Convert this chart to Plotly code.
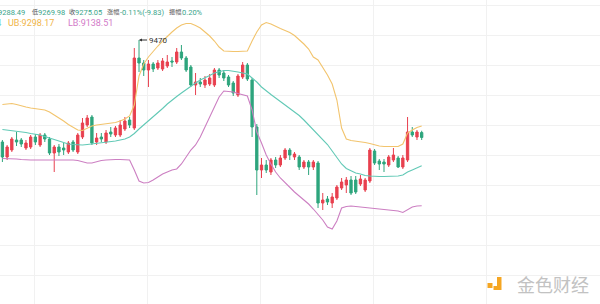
import plotly.graph_objects as go

# ---- data ----
idx = list(range(90))

open_ = [9266, 9236, 9250, 9270, 9270, 9254, 9256, 9276, 9260, 9280,
         9272, 9244, 9256, 9254, 9246, 9266, 9246, 9276, 9300, 9316,
         9266, 9276, 9266, 9286, 9280, 9280, 9292, 9310, 9294, 9434,
         9424, 9410, 9422, 9414, 9412, 9418, 9428, 9426, 9446, 9434,
         9416, 9380, 9386, 9380, 9382, 9380, 9410, 9404, 9396, 9384,
         9360, 9396, 9420, 9390, 9296, 9210, 9220, 9206, 9230, 9220,
         9234, 9250, 9236, 9236, 9216, 9226, 9216, 9224, 9144, 9152,
         9144, 9154, 9174, 9180, 9190, 9190, 9182, 9170, 9188, 9248,
         9228, 9226, 9220, 9230, 9234, 9216, 9230, 9286, 9276, 9284.88]
high = [9270, 9260, 9276, 9286, 9274, 9270, 9280, 9282, 9284, 9284,
        9276, 9260, 9262, 9264, 9268, 9270, 9284, 9314, 9320, 9320,
        9284, 9284, 9290, 9296, 9298, 9310, 9316, 9316, 9454, 9470,
        9430, 9430, 9426, 9430, 9434, 9440, 9436, 9454, 9460, 9438,
        9420, 9404, 9394, 9398, 9402, 9414, 9414, 9410, 9400, 9388,
        9402, 9426, 9424, 9394, 9302, 9234, 9230, 9234, 9236, 9240,
        9254, 9254, 9246, 9240, 9230, 9230, 9230, 9228, 9164, 9158,
        9164, 9180, 9194, 9196, 9198, 9198, 9200, 9194, 9254, 9252,
        9232, 9232, 9240, 9254, 9238, 9240, 9316, 9296, 9290, 9288.49]
low = [9226, 9230, 9246, 9258, 9256, 9250, 9252, 9260, 9256, 9266,
       9240, 9206, 9238, 9240, 9242, 9246, 9242, 9272, 9296, 9260,
       9260, 9266, 9262, 9276, 9276, 9276, 9288, 9294, 9290, 9406,
       9398, 9376, 9406, 9410, 9408, 9414, 9416, 9422, 9430, 9406,
       9376, 9360, 9376, 9374, 9378, 9376, 9394, 9388, 9376, 9358,
       9356, 9392, 9388, 9276, 9160, 9194, 9204, 9200, 9214, 9216,
       9230, 9230, 9230, 9210, 9212, 9200, 9210, 9134, 9130, 9140,
       9134, 9150, 9170, 9164, 9160, 9162, 9178, 9166, 9184, 9220,
       9210, 9206, 9216, 9226, 9214, 9212, 9226, 9276, 9270, 9269.98]
close = [9236, 9256, 9272, 9266, 9262, 9264, 9276, 9266, 9280, 9272,
         9244, 9256, 9246, 9250, 9264, 9250, 9280, 9304, 9314, 9264,
         9274, 9272, 9284, 9282, 9294, 9300, 9308, 9300, 9434, 9424,
         9410, 9422, 9412, 9424, 9428, 9426, 9426, 9446, 9434, 9410,
         9380, 9386, 9382, 9390, 9394, 9410, 9400, 9394, 9380, 9364,
         9398, 9420, 9392, 9296, 9210, 9220, 9210, 9230, 9220, 9234,
         9250, 9240, 9242, 9216, 9226, 9216, 9226, 9144, 9150, 9146,
         9156, 9176, 9186, 9190, 9164, 9166, 9192, 9190, 9250, 9224,
         9222, 9222, 9236, 9240, 9216, 9234, 9286, 9280, 9286, 9275.05]

ub = [9341, 9342, 9343, 9341, 9338, 9336, 9334, 9333, 9331, 9330,
      9326, 9320, 9315, 9308, 9301, 9295, 9290, 9289, 9293, 9298,
      9300, 9301, 9302, 9303, 9305, 9308, 9312, 9318, 9340, 9398,
      9422, 9436, 9448, 9458, 9468, 9478, 9486, 9494, 9500, 9503,
      9503, 9499, 9494, 9486, 9478, 9468, 9456, 9448, 9447, 9447,
      9447, 9447, 9448, 9468, 9486, 9500, 9505, 9502, 9497, 9493,
      9489, 9485, 9479, 9471, 9462, 9452, 9436, 9430, 9416, 9400,
      9382, 9350, 9294, 9272, 9269, 9268, 9267, 9265, 9263, 9260,
      9258, 9257, 9257, 9256, 9257, 9262, 9284, 9290, 9295, 9298.17]
mb = [9291, 9290, 9289, 9288, 9286, 9285, 9283, 9282, 9280, 9277,
      9274, 9270, 9267, 9264, 9262, 9261, 9260, 9260, 9261, 9262,
      9264, 9265, 9266, 9267, 9268, 9270, 9272, 9276, 9283, 9292,
      9300, 9308, 9316, 9324, 9333, 9342, 9350, 9357, 9364, 9371,
      9378, 9384, 9390, 9394, 9399, 9404, 9407, 9409, 9409, 9408,
      9406, 9404, 9402, 9394, 9386, 9376, 9368, 9361, 9354, 9347,
      9340, 9333, 9326, 9319, 9310, 9300, 9291, 9282, 9272, 9261,
      9248, 9234, 9222, 9213, 9208, 9204, 9202, 9199, 9198, 9197,
      9197, 9197, 9197, 9197, 9198, 9200, 9206, 9210, 9214, 9218.34]
lb = [9233, 9233, 9232, 9232, 9231, 9230, 9230, 9230, 9230, 9230,
      9230, 9231, 9231, 9231, 9230, 9230, 9229, 9227, 9224, 9224,
      9227, 9229, 9230, 9231, 9231, 9231, 9231, 9230, 9210, 9188,
      9184, 9185, 9190, 9196, 9202, 9206, 9210, 9212, 9222, 9236,
      9250, 9260, 9276, 9296, 9316, 9338, 9356, 9368, 9367, 9366,
      9363, 9361, 9358, 9330, 9286, 9264, 9240, 9222, 9206, 9194,
      9184, 9174, 9166, 9158, 9150, 9142, 9132, 9122, 9110, 9096,
      9092, 9108, 9134, 9137, 9138, 9137, 9136, 9135, 9134, 9134,
      9133, 9132, 9131, 9130, 9128, 9125, 9130, 9136, 9138, 9138.51]

max_label = "9470"
max_idx = 29

# header texts: (label, value)
header = [("高", "9288.49"), ("低", "9269.98"), ("收", "9275.05"),
          ("涨幅", "-0.11%(-9.83)"), ("振幅", "0.20%")]
bands_txt = ["MB:9218.34", "UB:9298.17", "LB:9138.51"]

RED = "#e8404f"
GREEN = "#2ea57d"
UB_C = "#f2c46d"
MB_C = "#62c9b6"
LB_C = "#cc7fc2"

fig = go.Figure()
fig.add_trace(go.Scatter(x=idx, y=ub, mode="lines", line=dict(color=UB_C, width=1.1), hoverinfo="skip"))
fig.add_trace(go.Scatter(x=idx, y=mb, mode="lines", line=dict(color=MB_C, width=1.1), hoverinfo="skip"))
fig.add_trace(go.Scatter(x=idx, y=lb, mode="lines", line=dict(color=LB_C, width=1.1), hoverinfo="skip"))
fig.add_trace(go.Candlestick(
    x=idx, open=open_, high=high, low=low, close=close,
    increasing=dict(line=dict(color=RED, width=1), fillcolor=RED),
    decreasing=dict(line=dict(color=GREEN, width=1), fillcolor=GREEN),
    whiskerwidth=0,
))

fig.add_annotation(x=max_idx, y=9470, xref="x", yref="y", text=max_label,
                   showarrow=True, arrowhead=2, arrowsize=0.6, arrowwidth=1, arrowcolor="#333",
                   ax=8, ay=0, xanchor="left", font=dict(size=8, color="#333", family="Roboto"))

GRAY = "#555555"
VAL = "#3aa58a"
FAM = "Roboto, Noto Sans CJK SC"


def lab(x, y, text, color, anchor="left", size=7.5):
    fig.add_annotation(x=x / 600, y=1 - y / 304, xref="paper", yref="paper", text=text,
                       showarrow=False, xanchor=anchor, yanchor="middle",
                       font=dict(size=size, family=FAM, color=color))


# line 1: label x, value x (pixels)
pos1 = [(None, 27), (29.5, 36), (66.5, 73), (105, 118), (166.5, 179.5)]
for (label, value), (lx, vx) in zip(header, pos1):
    if lx is None:
        lab(vx, 12, value, VAL, anchor="right")
        lab(vx - 30, 12, label, GRAY, anchor="right")
    else:
        lab(lx, 12, label, GRAY, size=6.2)
        lab(vx, 12, value, VAL)

lab(3, 23.5, bands_txt[0], MB_C, anchor="right", size=9)
lab(6, 23.5, bands_txt[1], "#f0b548", size=9)
lab(66, 23.5, bands_txt[2], "#d27ac8", size=9)

# watermark
fig.add_annotation(x=553 / 600, y=1 - 284 / 304, xref="paper", yref="paper", text="金色财经",
                   showarrow=False, xanchor="center", yanchor="middle",
                   font=dict(size=18, family="Noto Sans CJK SC", color="#c2c2c2"))
ORG = "#f5a623"
fig.add_shape(type="rect", xref="paper", yref="paper", x0=487.5 / 600, x1=492.5 / 600,
              y0=1 - 288 / 304, y1=1 - 283 / 304, fillcolor=ORG, line=dict(width=0))
fig.add_shape(type="path", xref="paper", yref="paper",
              path="M %f %f L %f %f L %f %f L %f %f L %f %f L %f %f Z" % (
                  497 / 600, 1 - 277 / 304, 501.5 / 600, 1 - 277 / 304, 501.5 / 600, 1 - 290 / 304,
                  493.5 / 600, 1 - 290 / 304, 493.5 / 600, 1 - 286 / 304, 497 / 600, 1 - 286 / 304),
              fillcolor=ORG, line=dict(width=0))

fig.update_layout(
    width=600, height=304, margin=dict(l=0, r=0, t=0, b=0),
    paper_bgcolor="white", plot_bgcolor="white", showlegend=False,
    xaxis=dict(range=[-0.51, 126.85], showgrid=True, gridcolor="#f1f1f1", gridwidth=1,
               tick0=6.8, dtick=24, showticklabels=False, zeroline=False,
               rangeslider=dict(visible=False), fixedrange=True),
    yaxis=dict(range=[8942, 9550], showgrid=True, gridcolor="#f1f1f1", gridwidth=1,
               tick0=9300, dtick=60, showticklabels=False, zeroline=False, fixedrange=True),
)

fig.write_html("out.html")
